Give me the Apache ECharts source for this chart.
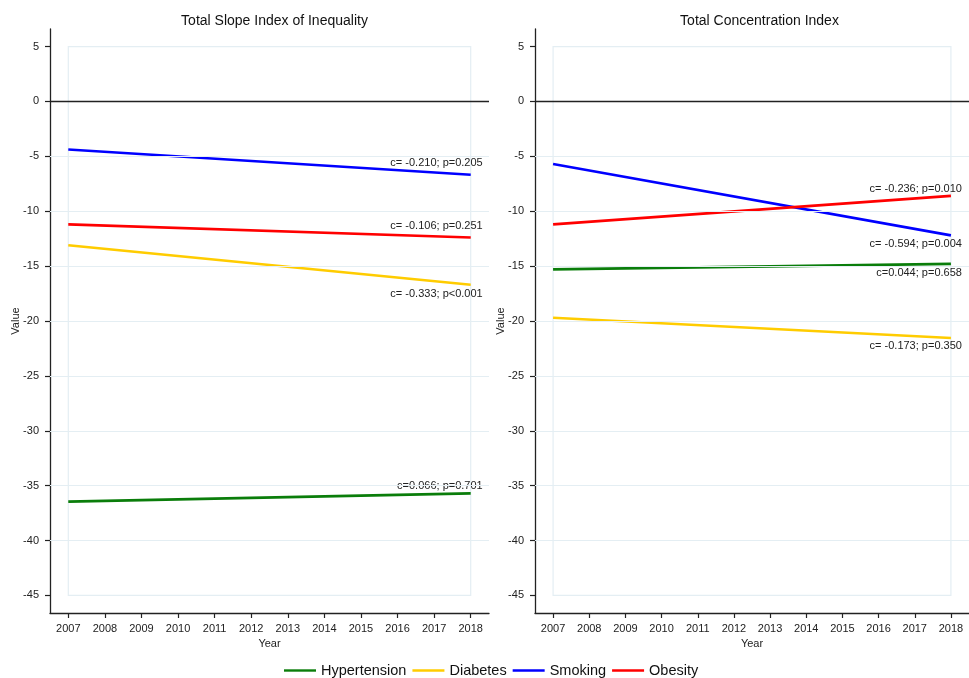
<!DOCTYPE html>
<html>
<head>
<meta charset="utf-8">
<script src="https://cdn.jsdelivr.net/npm/echarts@6/dist/echarts.min.js"></script>
<style>
html,body{margin:0;padding:0;background:#fff;}
#chart{width:969px;height:678px;}
</style>
</head>
<body>
<div id="chart"></div>
<script>
// ---- data ----
const years = [2007, 2018];
const xTickYears = [2007, 2008, 2009, 2010, 2011, 2012, 2013, 2014, 2015, 2016, 2017, 2018];
const yTicks = [5, 0, -5, -10, -15, -20, -25, -30, -35, -40, -45];
const names = ['Hypertension', 'Diabetes', 'Smoking', 'Obesity'];
const panelTitles = ['Total Slope Index of Inequality', 'Total Concentration Index'];

// Total Slope Index of Inequality (fitted values at 2007 and 2018)
const siiHypertension = [-36.45, -35.7];
const siiDiabetes = [-13.1, -16.7];
const siiSmoking = [-4.37, -6.68];
const siiObesity = [-11.2, -12.4];
const siiNotes = ['c=0.066; p=0.701', 'c= -0.333; p<0.001', 'c= -0.210; p=0.205', 'c= -0.106; p=0.251'];

// Total Concentration Index
const ciHypertension = [-15.3, -14.8];
const ciDiabetes = [-19.7, -21.55];
const ciSmoking = [-5.7, -12.2];
const ciObesity = [-11.2, -8.6];
const ciNotes = ['c=0.044; p=0.658', 'c= -0.173; p=0.350', 'c= -0.594; p=0.004', 'c= -0.236; p=0.010'];

// ---- styles ----
const colors = {Hypertension: '#0a7d0a', Diabetes: '#ffcc00', Smoking: '#0000ff', Obesity: '#ff0000'};
const leftLabelDy = {Hypertension: -7, Diabetes: 9, Smoking: -12, Obesity: -12};
const rightLabelDy = {Hypertension: 9, Diabetes: 8, Smoking: 9, Obesity: -7};
const FONT = 'Liberation Sans, Arial, Helvetica, sans-serif';
const gridColor = '#e4eef3';
const axisColor = '#222';

const panels = [
  {vals: [siiHypertension, siiDiabetes, siiSmoking, siiObesity], notes: siiNotes, dy: leftLabelDy, dx: 12},
  {vals: [ciHypertension, ciDiabetes, ciSmoking, ciObesity], notes: ciNotes, dy: rightLabelDy, dx: 11}
];

const grids = [
  {left: 50, top: 29, width: 439, bottom: 65},
  {left: 535, top: 29, width: 439, bottom: 65}
];

const xAxes = grids.map((g, i) => ({
  type: 'value', gridIndex: i, min: 2006.5, max: 2018.5,
  name: 'Year', nameLocation: 'middle', nameGap: 22,
  nameTextStyle: {fontFamily: FONT, fontSize: 11, color: axisColor},
  axisLine: {show: true, onZero: false, lineStyle: {color: axisColor, width: 1.3}},
  axisTick: {show: true, length: 5, lineStyle: {color: axisColor, width: 1.2}, customValues: xTickYears},
  axisLabel: {fontFamily: FONT, fontSize: 11, color: axisColor, margin: 10, customValues: xTickYears, formatter: v => String(v)},
  splitLine: {show: false}
}));

const yAxes = grids.map((g, i) => ({
  type: 'value', gridIndex: i, min: -46.6, max: 6.6,
  name: 'Value', nameLocation: 'middle', nameGap: 29, nameRotate: 90,
  nameMoveOverlap: false,
  nameTextStyle: {fontFamily: FONT, fontSize: 11, color: axisColor},
  axisLine: {show: true, onZero: false, lineStyle: {color: axisColor, width: 1.3}},
  axisTick: {show: true, length: 5, lineStyle: {color: axisColor, width: 1.2}, customValues: yTicks},
  axisLabel: {fontFamily: FONT, fontSize: 11, color: axisColor, margin: 11, customValues: yTicks},
  splitLine: {show: false}
}));

const series = [];
panels.forEach((p, pi) => {
  // helper series for frame, gridlines and zero line
  const inner = yTicks.filter(v => v !== yTicks[0] && v !== yTicks[yTicks.length - 1] && v !== 0);
  series.push({
    type: 'line', name: '_helper' + pi, xAxisIndex: pi, yAxisIndex: pi, data: [], z: 1,
    silent: true,
    markArea: {
      silent: true,
      itemStyle: {color: 'rgba(0,0,0,0)', borderColor: gridColor, borderWidth: 1.2},
      data: [[{coord: [xTickYears[0], yTicks[0]]}, {coord: [xTickYears[xTickYears.length - 1], yTicks[yTicks.length - 1]]}]]
    },
    markLine: {
      silent: true, symbol: 'none', label: {show: false},
      data: inner.map(v => ({yAxis: v, lineStyle: {color: gridColor, width: 1.2, type: 'solid'}}))
        .concat([{yAxis: 0, lineStyle: {color: axisColor, width: 1.3, type: 'solid'}}])
    }
  });
  names.forEach((n, si) => {
    const v = p.vals[si];
    series.push({
      type: 'line', name: n, xAxisIndex: pi, yAxisIndex: pi, z: 3,
      symbol: 'circle', symbolSize: 0, showSymbol: true,
      color: colors[n],
      lineStyle: {color: colors[n], width: 2.6},
      emphasis: {disabled: true},
      data: [
        [years[0], v[0]],
        {value: [years[1], v[1]], label: {
          show: true, formatter: p.notes[si], position: [p.dx, p.dy[n]],
          align: 'right', verticalAlign: 'middle',
          fontFamily: FONT, fontSize: 11, color: axisColor,
          textBorderWidth: 0, textBorderColor: 'transparent'
        }}
      ]
    });
  });
});

const option = {
  animation: false,
  backgroundColor: '#fff',
  title: panelTitles.map((t, i) => ({
    text: t, left: grids[i].left + grids[i].width / 2, top: 9, textAlign: 'center',
    textStyle: {fontFamily: FONT, fontSize: 14, fontWeight: 'normal', color: '#111'}
  })),
  legend: {
    data: names, top: 658, left: 279, itemWidth: 32, itemHeight: 14, itemGap: 6,
    icon: 'path://M0,6 L32,6 L32,8.4 L0,8.4 Z',
    textStyle: {fontFamily: FONT, fontSize: 14.5, color: '#111'}
  },
  grid: grids,
  xAxis: xAxes,
  yAxis: yAxes,
  series: series
};

const chart = echarts.init(document.getElementById('chart'), null, {renderer: 'canvas'});
chart.setOption(option);
</script>
</body>
</html>
